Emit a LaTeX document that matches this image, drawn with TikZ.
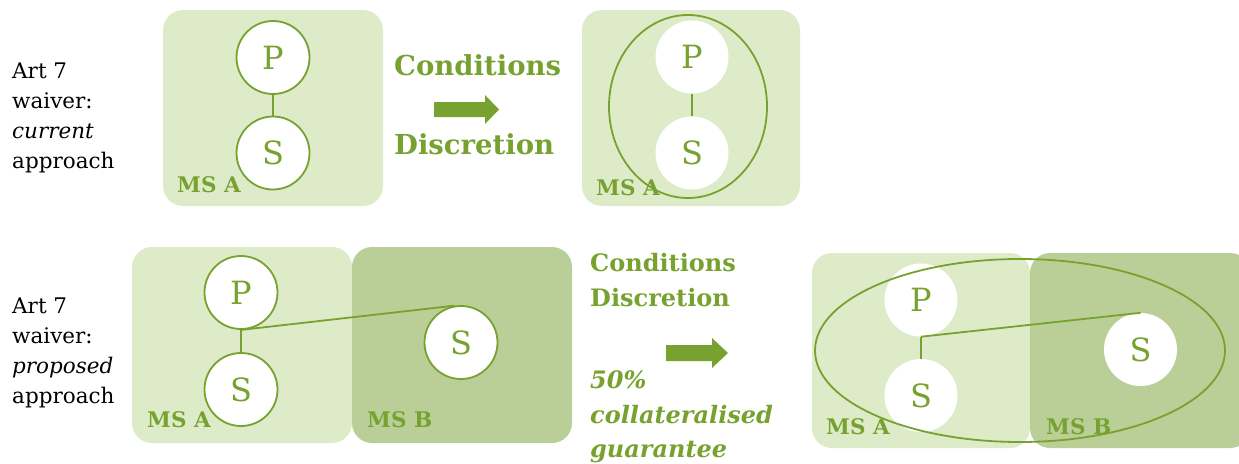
\documentclass[tikz,border=0pt]{standalone}
\usepackage{fontspec}
\setmainfont{DejaVu Serif}
\usetikzlibrary{shapes.geometric}
\definecolor{lightg}{HTML}{DEEBC9}
\definecolor{darkg}{HTML}{B9CF97}
\definecolor{gtext}{HTML}{77A22F}
\tikzset{
  msbox/.style={fill=lightg, draw=none, rounded corners=20pt},
  msboxdark/.style={fill=darkg, draw=none, rounded corners=20pt},
  ent/.style={circle, draw=gtext, line width=1.8pt, fill=white, minimum size=73pt, inner sep=0pt, text=gtext, font=\fontsize{32}{34}\selectfont},
  entw/.style={circle, draw=none, fill=white, minimum size=73pt, inner sep=0pt, text=gtext, font=\fontsize{32}{34}\selectfont},
  link/.style={draw=gtext, line width=1.8pt},
  group/.style={ellipse, draw=gtext, line width=1.8pt, inner sep=0pt},
  mslabel/.style={text=gtext, font=\fontsize{21.5}{24}\selectfont\bfseries, anchor=base west, inner sep=0pt},
  side/.style={align=left, anchor=west, inner sep=0pt, font=\fontsize{21.5}{30}\selectfont},
  cond/.style={text=gtext, anchor=base west, inner sep=0pt, font=\fontsize{27.5}{30}\selectfont\bfseries},
  condsmall/.style={text=gtext, anchor=base west, inner sep=0pt, font=\fontsize{24}{26}\selectfont\bfseries},
  condit/.style={text=gtext, anchor=base west, inner sep=0pt, font=\fontsize{24}{26}\selectfont\bfseries\itshape},
  bigarrow/.style={fill=gtext, draw=none}
}
\begin{document}
\begin{tikzpicture}[x=1pt, y=-1pt]
\useasboundingbox (0,0) rectangle (1239,463);
\begin{scope}
\clip (0,0) rectangle (1239,463);
% ---------- top row ----------
\node[side] (t1) at (12,117.5) {Art 7\\waiver:\\\textit{current}\\approach};
\fill[msbox] (163,10) rectangle (383,206);
\node[ent] (P1) at (273,57.5) {P};
\node[ent] (S1) at (273,153) {S};
\draw[link] (P1) -- (S1);
\node[mslabel] (L1) at (177,192) {MS A};

\node[cond] (c1) at (394,75) {Conditions};
\node[cond] (d1) at (394,154) {Discretion};
\fill[bigarrow] (434,102) -- (485,102) -- (485,95) -- (499,109.5) -- (485,124) -- (485,117) -- (434,117) -- cycle;

\fill[msbox] (582,10) rectangle (800,206);
\node[entw] (P2) at (692,57) {P};
\node[entw] (S2) at (692,153) {S};
\draw[link] (P2) -- (S2);
\node[group, minimum width=158pt, minimum height=183pt] (E2) at (688,106.5) {};
\node[mslabel] (L2) at (596,195) {MS A};

% ---------- bottom row ----------
\node[side] (t2) at (12,352.5) {Art 7\\waiver:\\\textit{proposed}\\approach};
\fill[msbox] (132,247) rectangle (352,443);
\fill[msboxdark] (352,247) rectangle (572,443);
\node[ent] (P3) at (241,292.5) {P};
\node[ent] (S3) at (241,389.5) {S};
\node[ent] (S3b) at (461,342.5) {S};
\draw[link] (P3.south) -- (S3.north);
\draw[link] (P3.south) -- (S3b.100);
\node[mslabel] (L3a) at (147,427) {MS A};
\node[mslabel] (L3b) at (367,427) {MS B};

\node[condsmall] (c2) at (590,271) {Conditions};
\node[condsmall] (d2) at (590,306) {Discretion};
\node[condit] (g1) at (590,388) {50\%};
\node[condit] (g2) at (590,423) {collateralised};
\node[condit] (g3) at (590,457) {guarantee};
\fill[bigarrow] (666,345) -- (712,345) -- (712,338) -- (728,353) -- (712,368) -- (712,361) -- (666,361) -- cycle;

\fill[msbox] (812,253) rectangle (1030,448);
\fill[msboxdark] (1030,253) rectangle (1250,448);
\node[entw] (P4) at (921,300) {P};
\node[entw] (S4) at (921,395.5) {S};
\node[entw] (S4b) at (1140.5,349.5) {S};
\draw[link] (P4.south) -- (S4.north);
\draw[link] (P4.south) -- (S4b.north);
\node[group, minimum width=410pt, minimum height=183pt] (E4) at (1020,350.5) {};
\node[mslabel] (L4a) at (826,434) {MS A};
\node[mslabel] (L4b) at (1046,434) {MS B};
\end{scope}
\end{tikzpicture}
\end{document}
